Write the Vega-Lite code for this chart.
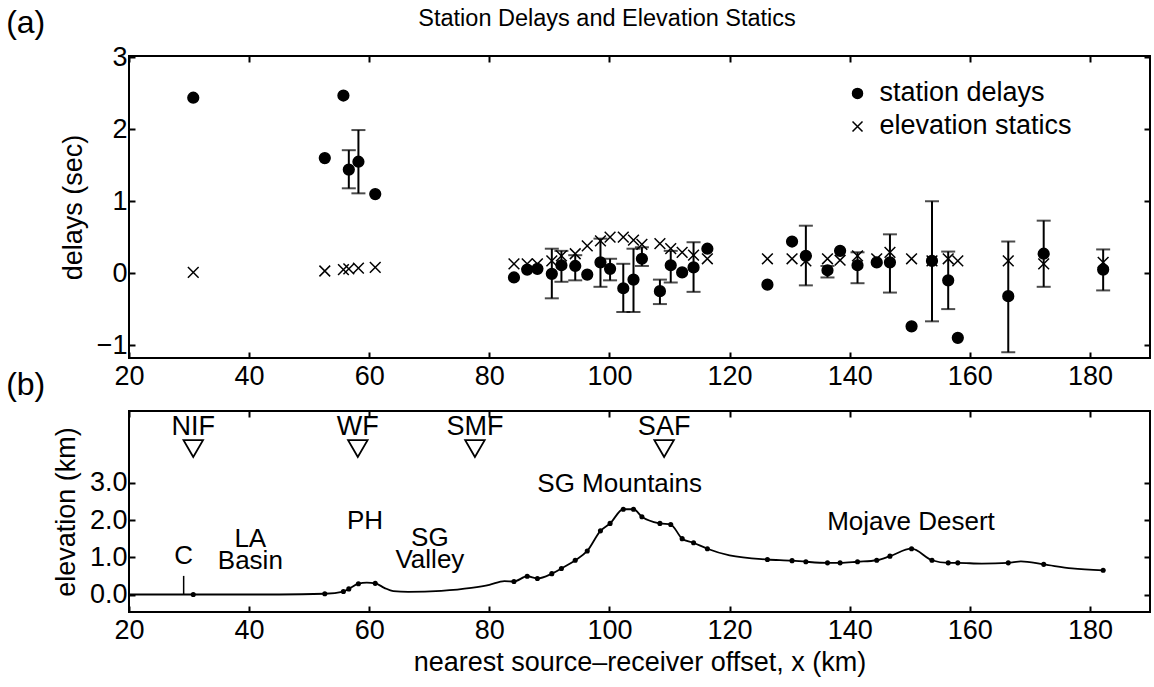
{
  "$schema": "https://vega.github.io/schema/vega-lite/v6.json",
  "background": "white",
  "padding": 5,
  "bounds": "flush",
  "spacing": 53,
  "config": {
    "font": "Liberation Sans",
    "view": {"stroke": "black", "strokeWidth": 2},
    "axis": {"domain": false, "grid": false, "ticks": true, "tickColor": "black", "tickSize": -6, "tickWidth": 2, "labelColor": "black", "labelFontSize": 27, "labelFont": "Liberation Sans", "titleFontSize": 27, "titleFontWeight": "normal", "titleColor": "black", "titleFont": "Liberation Sans", "labelFlush": false, "labelOverlap": false, "titlePadding": 9},
    "axisX": {"labelPadding": 11},
    "axisY": {"labelPadding": 8},
    "text": {"font": "Liberation Sans", "color": "black"}
  },
  "datasets": {
    "stations": [
      {"x": 30.7, "delay": 2.44, "static": 0.01},
      {"x": 52.6, "delay": 1.60, "static": 0.03},
      {"x": 55.7, "delay": 2.47, "static": 0.05},
      {"x": 56.6, "delay": 1.44, "static": 0.06, "lo": 1.18, "hi": 1.71},
      {"x": 58.2, "delay": 1.55, "static": 0.07, "lo": 1.11, "hi": 1.99},
      {"x": 61.0, "delay": 1.10, "static": 0.08},
      {"x": 84.1, "delay": -0.06, "static": 0.13},
      {"x": 86.3, "delay": 0.05, "static": 0.13},
      {"x": 88.0, "delay": 0.06, "static": 0.13},
      {"x": 90.4, "delay": -0.01, "static": 0.17, "lo": -0.35, "hi": 0.34},
      {"x": 92.0, "delay": 0.11, "static": 0.24, "lo": -0.12, "hi": 0.31},
      {"x": 94.3, "delay": 0.10, "static": 0.27, "lo": -0.10, "hi": 0.25},
      {"x": 96.3, "delay": -0.02, "static": 0.38},
      {"x": 98.5, "delay": 0.15, "static": 0.45, "lo": -0.19, "hi": 0.48},
      {"x": 100.1, "delay": 0.06, "static": 0.50, "lo": -0.10, "hi": 0.20},
      {"x": 102.3, "delay": -0.21, "static": 0.50, "lo": -0.54, "hi": 0.13},
      {"x": 104.0, "delay": -0.09, "static": 0.46, "lo": -0.54, "hi": 0.34},
      {"x": 105.4, "delay": 0.20, "static": 0.40, "lo": 0.10, "hi": 0.36},
      {"x": 108.4, "delay": -0.25, "static": 0.41, "lo": -0.43, "hi": -0.09},
      {"x": 110.2, "delay": 0.11, "static": 0.34, "lo": -0.13, "hi": 0.31},
      {"x": 112.1, "delay": 0.01, "static": 0.29},
      {"x": 114.0, "delay": 0.08, "static": 0.25, "lo": -0.26, "hi": 0.43},
      {"x": 116.3, "delay": 0.34, "static": 0.20},
      {"x": 126.3, "delay": -0.16, "static": 0.20},
      {"x": 130.4, "delay": 0.44, "static": 0.20},
      {"x": 132.7, "delay": 0.24, "static": 0.17, "lo": -0.17, "hi": 0.66},
      {"x": 136.3, "delay": 0.04, "static": 0.20, "lo": -0.06, "hi": 0.10},
      {"x": 138.4, "delay": 0.31, "static": 0.18},
      {"x": 141.3, "delay": 0.11, "static": 0.24, "lo": -0.14, "hi": 0.29},
      {"x": 144.5, "delay": 0.15, "static": 0.20},
      {"x": 146.7, "delay": 0.15, "static": 0.29, "lo": -0.27, "hi": 0.54},
      {"x": 150.3, "delay": -0.74, "static": 0.20},
      {"x": 153.7, "delay": 0.17, "static": 0.17, "lo": -0.67, "hi": 1.00},
      {"x": 156.4, "delay": -0.10, "static": 0.20, "lo": -0.50, "hi": 0.30},
      {"x": 158.0, "delay": -0.90, "static": 0.17},
      {"x": 166.4, "delay": -0.32, "static": 0.17, "lo": -1.10, "hi": 0.44},
      {"x": 172.3, "delay": 0.27, "static": 0.13, "lo": -0.19, "hi": 0.73},
      {"x": 182.2, "delay": 0.05, "static": 0.15, "lo": -0.24, "hi": 0.33}
    ],
    "legendEntries": [
      {"series": "delay", "label": "station delays", "lx": 141.3, "ly": 2.50},
      {"series": "static", "label": "elevation statics", "lx": 141.3, "ly": 2.04}
    ],
    "profile": [
      {"x": 20.0, "elev": 0.0, "station": false},
      {"x": 29.0, "elev": 0.0, "station": false},
      {"x": 30.7, "elev": 0.0, "station": true},
      {"x": 45.0, "elev": 0.0, "station": false},
      {"x": 52.6, "elev": 0.02, "station": true},
      {"x": 55.7, "elev": 0.08, "station": true},
      {"x": 56.6, "elev": 0.15, "station": true},
      {"x": 58.2, "elev": 0.29, "station": true},
      {"x": 59.6, "elev": 0.32, "station": false},
      {"x": 61.0, "elev": 0.30, "station": true},
      {"x": 62.5, "elev": 0.18, "station": false},
      {"x": 64.0, "elev": 0.09, "station": false},
      {"x": 66.5, "elev": 0.07, "station": false},
      {"x": 72.0, "elev": 0.10, "station": false},
      {"x": 77.0, "elev": 0.18, "station": false},
      {"x": 80.0, "elev": 0.26, "station": false},
      {"x": 82.5, "elev": 0.36, "station": false},
      {"x": 84.1, "elev": 0.35, "station": true},
      {"x": 86.3, "elev": 0.49, "station": true},
      {"x": 88.0, "elev": 0.43, "station": true},
      {"x": 90.4, "elev": 0.56, "station": true},
      {"x": 92.0, "elev": 0.70, "station": true},
      {"x": 94.3, "elev": 0.92, "station": true},
      {"x": 96.3, "elev": 1.17, "station": true},
      {"x": 98.5, "elev": 1.71, "station": true},
      {"x": 100.1, "elev": 1.91, "station": true},
      {"x": 102.3, "elev": 2.29, "station": true},
      {"x": 104.0, "elev": 2.29, "station": true},
      {"x": 105.4, "elev": 2.09, "station": true},
      {"x": 108.4, "elev": 1.91, "station": true},
      {"x": 110.2, "elev": 1.88, "station": true},
      {"x": 112.1, "elev": 1.50, "station": true},
      {"x": 114.0, "elev": 1.39, "station": true},
      {"x": 116.3, "elev": 1.23, "station": true},
      {"x": 120.0, "elev": 1.05, "station": false},
      {"x": 126.3, "elev": 0.94, "station": true},
      {"x": 130.4, "elev": 0.91, "station": true},
      {"x": 132.7, "elev": 0.88, "station": true},
      {"x": 136.3, "elev": 0.85, "station": true},
      {"x": 138.4, "elev": 0.85, "station": true},
      {"x": 141.3, "elev": 0.88, "station": true},
      {"x": 144.5, "elev": 0.92, "station": true},
      {"x": 146.7, "elev": 1.03, "station": true},
      {"x": 150.3, "elev": 1.23, "station": true},
      {"x": 153.7, "elev": 0.92, "station": true},
      {"x": 156.4, "elev": 0.85, "station": true},
      {"x": 158.0, "elev": 0.85, "station": true},
      {"x": 162.0, "elev": 0.83, "station": false},
      {"x": 166.4, "elev": 0.85, "station": true},
      {"x": 168.5, "elev": 0.89, "station": false},
      {"x": 172.3, "elev": 0.81, "station": true},
      {"x": 177.0, "elev": 0.70, "station": false},
      {"x": 182.2, "elev": 0.65, "station": true}
    ],
    "faults": [
      {"name": "NIF", "x": 30.7},
      {"name": "WF", "x": 58.1},
      {"name": "SMF", "x": 77.6},
      {"name": "SAF", "x": 109.1}
    ],
    "regions": [
      {"label": "C", "x": 29.1, "y": 1.03},
      {"label": "LA\nBasin", "x": 40.2, "y": 1.50},
      {"label": "PH", "x": 59.3, "y": 1.97},
      {"label": "SG\nValley", "x": 70.1, "y": 1.52},
      {"label": "SG Mountains", "x": 101.7, "y": 2.98},
      {"label": "Mojave Desert", "x": 150.2, "y": 1.95}
    ],
    "coast": [
      {"x": 29.1, "y": 0.0, "y2": 0.5}
    ],
    "headings": [
      {"label": "(a)", "x": 2.8, "y": 3.48, "kind": "panel"},
      {"label": "(b)", "x": 2.8, "y": -1.55, "kind": "panel"},
      {"label": "Station Delays and Elevation Statics", "x": 99.6, "y": 3.53, "kind": "title"}
    ]
  },
  "vconcat": [
    {
      "width": 1021,
      "height": 302,
      "layer": [
        {
          "data": {"name": "stations"},
          "transform": [{"filter": "isValid(datum.lo)"}],
          "mark": {"type": "rule", "color": "black", "strokeWidth": 2},
          "encoding": {
            "x": {"field": "x", "type": "quantitative", "scale": {"domain": [20, 190], "nice": false, "zero": false}, "axis": {"orient": "top", "labels": false, "title": null, "values": [20, 40, 60, 80, 100, 120, 140, 160, 180]}},
            "y": {"field": "lo", "type": "quantitative", "scale": {"domain": [-1.18, 3.02], "nice": false, "zero": false}, "axis": {"orient": "right", "labels": false, "title": null, "values": [-1, 0, 1, 2, 3]}},
            "y2": {"field": "hi"}
          }
        },
        {
          "data": {"name": "stations"},
          "transform": [{"filter": "isValid(datum.lo)"}],
          "mark": {"type": "tick", "orient": "horizontal", "size": 14, "thickness": 2, "color": "black"},
          "encoding": {
            "x": {"field": "x", "type": "quantitative", "axis": null},
            "y": {"field": "lo", "type": "quantitative", "axis": null}
          }
        },
        {
          "data": {"name": "stations"},
          "transform": [{"filter": "isValid(datum.hi)"}],
          "mark": {"type": "tick", "orient": "horizontal", "size": 14, "thickness": 2, "color": "black"},
          "encoding": {
            "x": {"field": "x", "type": "quantitative", "axis": null},
            "y": {"field": "hi", "type": "quantitative", "axis": null}
          }
        },
        {
          "data": {"name": "stations"},
          "transform": [{"fold": ["delay", "static"], "as": ["series", "value"]}],
          "mark": {"type": "point", "filled": true, "fill": "black", "stroke": "black", "strokeWidth": 1.5, "opacity": 1, "size": 115},
          "encoding": {
            "x": {"field": "x", "type": "quantitative", "axis": {"orient": "bottom", "title": null, "values": [20, 40, 60, 80, 100, 120, 140, 160, 180]}},
            "y": {"field": "value", "type": "quantitative", "axis": {"orient": "left", "title": "delays (sec)", "values": [-1, 0, 1, 2, 3]}},
            "shape": {"field": "series", "type": "nominal", "scale": {"domain": ["delay", "static"], "range": ["circle", "M-1,-1L1,1M-1,1L1,-1"]}, "legend": null}
          }
        },
        {
          "data": {"name": "legendEntries"},
          "mark": {"type": "point", "filled": true, "fill": "black", "stroke": "black", "strokeWidth": 1.5, "opacity": 1, "size": 100},
          "encoding": {
            "x": {"field": "lx", "type": "quantitative", "axis": null},
            "y": {"field": "ly", "type": "quantitative", "axis": null},
            "shape": {"field": "series", "type": "nominal", "legend": null}
          }
        },
        {
          "data": {"name": "legendEntries"},
          "mark": {"type": "text", "fontSize": 27, "align": "left", "baseline": "middle", "color": "black", "dx": 22},
          "encoding": {
            "x": {"field": "lx", "type": "quantitative", "axis": null},
            "y": {"field": "ly", "type": "quantitative", "axis": null},
            "text": {"field": "label"}
          }
        },
        {
          "data": {"name": "headings"},
          "transform": [{"filter": "datum.kind == 'panel'"}],
          "mark": {"type": "text", "fontSize": 32, "align": "center", "baseline": "middle", "color": "black"},
          "encoding": {
            "x": {"field": "x", "type": "quantitative", "axis": null},
            "y": {"field": "y", "type": "quantitative", "axis": null},
            "text": {"field": "label"}
          }
        },
        {
          "data": {"name": "headings"},
          "transform": [{"filter": "datum.kind == 'title'"}],
          "mark": {"type": "text", "fontSize": 23.5, "align": "center", "baseline": "middle", "color": "black"},
          "encoding": {
            "x": {"field": "x", "type": "quantitative", "axis": null},
            "y": {"field": "y", "type": "quantitative", "axis": null},
            "text": {"field": "label"}
          }
        }
      ],
      "resolve": {"axis": {"x": "independent", "y": "independent"}}
    },
    {
      "width": 1021,
      "height": 201,
      "layer": [
        {
          "data": {"name": "coast"},
          "mark": {"type": "rule", "color": "black", "strokeWidth": 1.5},
          "encoding": {
            "x": {"field": "x", "type": "quantitative", "scale": {"domain": [20, 190], "nice": false, "zero": false}, "axis": {"orient": "top", "labels": false, "title": null, "values": [20, 40, 60, 80, 100, 120, 140, 160, 180]}},
            "y": {"field": "y", "type": "quantitative", "scale": {"domain": [-0.47, 4.93], "nice": false, "zero": false}, "axis": {"orient": "right", "labels": false, "title": null, "values": [0, 1, 2, 3]}},
            "y2": {"field": "y2"}
          }
        },
        {
          "data": {"name": "profile"},
          "mark": {"type": "line", "color": "black", "strokeWidth": 1.8, "interpolate": "monotone"},
          "encoding": {
            "x": {"field": "x", "type": "quantitative", "axis": {"orient": "bottom", "title": "nearest source\u2013receiver offset, x (km)", "values": [20, 40, 60, 80, 100, 120, 140, 160, 180], "titlePadding": 6}},
            "y": {"field": "elev", "type": "quantitative", "axis": {"orient": "left", "title": "elevation (km)", "values": [0, 1, 2, 3], "format": ".1f"}}
          }
        },
        {
          "data": {"name": "profile"},
          "transform": [{"filter": "datum.station"}],
          "mark": {"type": "circle", "color": "black", "opacity": 1, "size": 26},
          "encoding": {
            "x": {"field": "x", "type": "quantitative", "axis": null},
            "y": {"field": "elev", "type": "quantitative", "axis": null}
          }
        },
        {
          "data": {"name": "faults"},
          "mark": {"type": "point", "shape": "triangle-down", "filled": false, "stroke": "black", "strokeWidth": 1.8, "size": 380, "opacity": 1},
          "encoding": {
            "x": {"field": "x", "type": "quantitative", "axis": null},
            "y": {"datum": 3.92, "type": "quantitative", "axis": null}
          }
        },
        {
          "data": {"name": "faults"},
          "mark": {"type": "text", "fontSize": 27, "align": "center", "baseline": "middle", "color": "black"},
          "encoding": {
            "x": {"field": "x", "type": "quantitative", "axis": null},
            "y": {"datum": 4.5, "type": "quantitative", "axis": null},
            "text": {"field": "name"}
          }
        },
        {
          "data": {"name": "regions"},
          "mark": {"type": "text", "fontSize": 26, "align": "center", "baseline": "middle", "color": "black", "lineBreak": "\n", "lineHeight": 22},
          "encoding": {
            "x": {"field": "x", "type": "quantitative", "axis": null},
            "y": {"field": "y", "type": "quantitative", "axis": null},
            "text": {"field": "label"}
          }
        }
      ],
      "resolve": {"axis": {"x": "independent", "y": "independent"}}
    }
  ]
}
